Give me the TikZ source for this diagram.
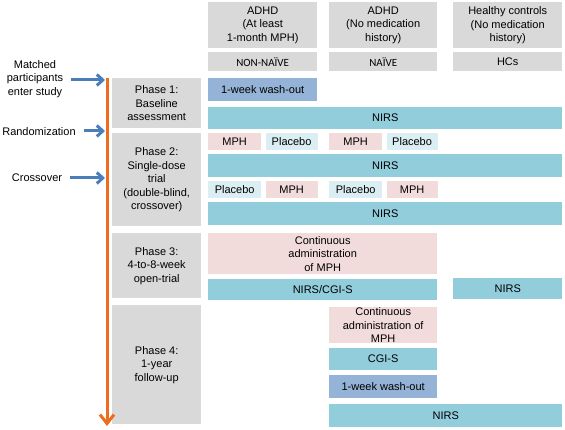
\documentclass[tikz,border=0pt]{standalone}
\usepackage{fontspec}
\setmainfont{Liberation Sans}
\newfontfamily\capsfont{Carlito}
\usetikzlibrary{arrows.meta,positioning}
\definecolor{cellGray}{HTML}{D9D9D9}
\definecolor{nirsBlue}{HTML}{92CDDC}
\definecolor{washBlue}{HTML}{95B3D7}
\definecolor{mphPink}{HTML}{F2DCDB}
\definecolor{placeboBlue}{HTML}{DBEEF4}
\definecolor{timeOrange}{HTML}{EF6C1C}
\definecolor{eventBlue}{HTML}{4A7EBB}
\tikzset{%
    base/.style = {
        rectangle, inner sep=0pt, anchor=north west, align=center,
        font=\fontsize{11}{13.5}\selectfont
    },
    group/.style = {base, fill=cellGray, minimum width=109pt, minimum height=46pt},
    tag/.style = {base, fill=cellGray, minimum width=109pt, minimum height=19pt},
    phase/.style = {base, fill=cellGray, minimum width=89pt},
    nirs/.style = {base, fill=nirsBlue, minimum height=22pt},
    washout/.style = {base, fill=washBlue, minimum width=109pt, minimum height=23pt},
    mph/.style = {base, fill=mphPink, minimum width=53pt, minimum height=17pt},
    placebo/.style = {base, fill=placeboBlue, minimum width=52pt, minimum height=17pt},
    event/.style = {align=center, inner sep=0pt, font=\fontsize{11}{13.5}\selectfont},
    eventArrow/.style = {-{Straight Barb[length=6pt,width=11pt]}, draw=eventBlue,
        line width=3pt, shorten <=8pt},
    timeline/.style = {-{Straight Barb[length=9pt,width=14pt]}, draw=timeOrange,
        line width=3pt},
}

\begin{document}
\begin{tikzpicture}[x=1pt, y=-1pt]
        \useasboundingbox (0,0) rectangle (565,430);

        % Group headers
        \node (adhdPre)    [group] at (208,2)
                                {ADHD\\(At least\\1-month MPH)};
        \node (adhdNaive)  [group, minimum width=108pt] at (329,2)
                                {ADHD\\(No medication\\history)};
        \node (healthy)    [group] at (453,2)
                                {Healthy controls\\(No medication\\history)};
        \node (nonNaive)   [tag, font=\capsfont\fontsize{11}{13.5}\selectfont] at (208,52)
                                {NON-NAÏVE};
        \node (naive)      [tag, minimum width=108pt,
                            font=\capsfont\fontsize{11}{13.5}\selectfont] at (329,52)
                                {NAÏVE};
        \node (hcs)        [tag] at (453,52)
                                {HCs};

        % Phases
        \node (phaseOne)   [phase, minimum height=50pt] at (112,78)
                                {Phase 1:\\Baseline\\assessment};
        \node (phaseTwo)   [phase, minimum height=93pt] at (112,133)
                                {Phase 2:\\Single-dose\\trial\\(double-blind,\\crossover)};
        \node (phaseThree) [phase, minimum height=65pt] at (112,233)
                                {Phase 3:\\4-to-8-week\\open-trial};
        \node (phaseFour)  [phase, minimum height=119pt] at (112,305)
                                {Phase 4:\\1-year\\follow-up};

        % Phase 1
        \node (washPre)    [washout] at (208,78)
                                {1-week wash-out};
        \node (nirsBase)   [nirs, minimum width=354pt, below=5pt of washPre.south west,
                            anchor=north west]
                                {NIRS};

        % Phase 2
        \node (mphPreA)    [mph] at (208,133) {MPH};
        \node (plcPreA)    [placebo, right=4pt of mphPreA] {Placebo};
        \node (mphNaiveA)  [mph] at (329,133) {MPH};
        \node (plcNaiveA)  [placebo, minimum width=51pt, right=4pt of mphNaiveA] {Placebo};
        \node (nirsFirst)  [nirs, minimum width=354pt, minimum height=23pt] at (208,154)
                                {NIRS};
        \node (plcPreB)    [placebo, minimum width=53pt] at (208,181) {Placebo};
        \node (mphPreB)    [mph, minimum width=52pt, right=4pt of plcPreB] {MPH};
        \node (plcNaiveB)  [placebo, minimum width=53pt] at (329,181) {Placebo};
        \node (mphNaiveB)  [mph, minimum width=51pt, right=4pt of plcNaiveB] {MPH};
        \node (nirsSecond) [nirs, minimum width=354pt, minimum height=23pt] at (208,202)
                                {NIRS};

        % Phase 3
        \node (contOpen)   [base, fill=mphPink, minimum width=229pt, minimum height=41pt]
                            at (208,233)
                                {Continuous\\administration\\of MPH};
        \node (nirsCgi)    [nirs, minimum width=229pt, minimum height=21pt,
                            below=4pt of contOpen.south west, anchor=north west]
                                {NIRS/CGI-S};
        \node (nirsHc)     [nirs, minimum width=109pt, minimum height=21pt] at (453,278)
                                {NIRS};

        % Phase 4
        \node (contFollow) [base, fill=mphPink, minimum width=108pt, minimum height=36pt]
                            at (329,307)
                                {Continuous\\administration of\\MPH};
        \node (cgiFollow)  [nirs, minimum width=108pt, below=4pt of contFollow.south west,
                            anchor=north west]
                                {CGI-S};
        \node (washFollow) [washout, minimum width=108pt, below=5pt of cgiFollow.south west,
                            anchor=north west]
                                {1-week wash-out};
        \node (nirsFollow) [nirs, minimum width=233pt, minimum height=23pt,
                            below=6pt of washFollow.south west, anchor=north west]
                                {NIRS};

        % Events
        \node (matched)    [event] at (35,79) {Matched\\participants\\enter study};
        \node (random)     [event] at (39,132) {Randomization};
        \node (crossover)  [event] at (37,178) {Crossover};
        \coordinate (tlTop)     at (107,78);
        \coordinate (tlEnd)     at (107,426);
        \coordinate (enterPt)   at (105,80);
        \coordinate (randomPt)  at (105,131);
        \coordinate (crossPt)   at (105,178);

        % Arrow specification
        \draw[timeline]   (tlTop) -- (tlEnd);
        \draw[eventArrow] (matched.east |- enterPt) -- (enterPt);
        \draw[eventArrow] (random.east |- randomPt) -- (randomPt);
        \draw[eventArrow] (crossover.east |- crossPt) -- (crossPt);
    \end{tikzpicture}
\end{document}
